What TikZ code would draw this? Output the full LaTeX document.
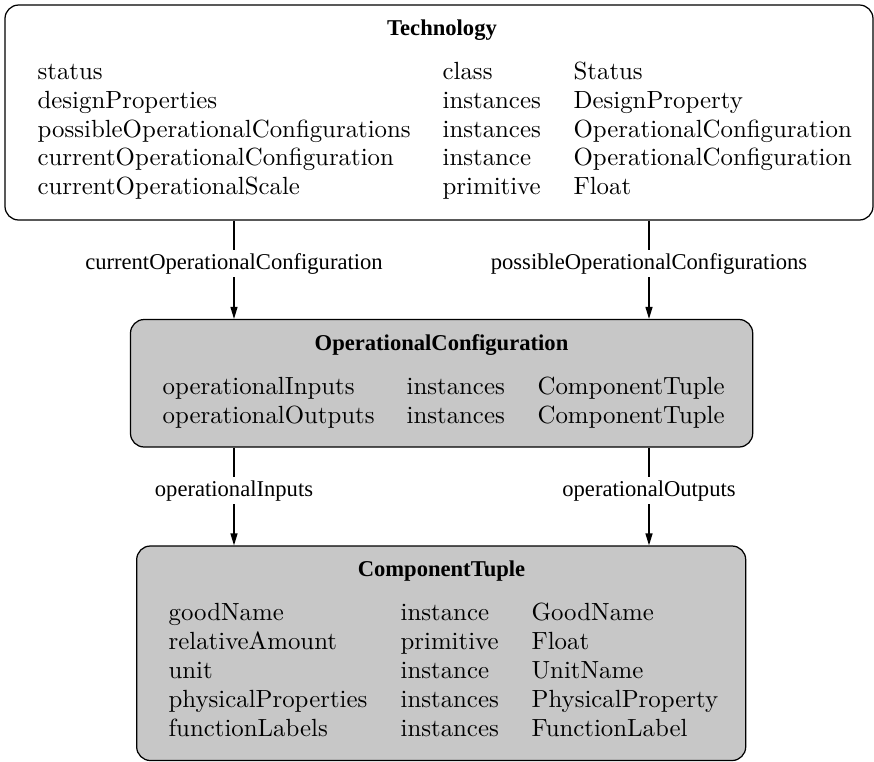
\documentclass[tikz,border=0pt]{standalone}
\usepackage{fontspec}
\newfontfamily\tms{Liberation Serif}
\usetikzlibrary{arrows.meta,fit}
\newlength\pxu
\setlength\pxu{0.4027pt}
\definecolor{boxgray}{gray}{0.78}
\begin{document}
\begin{tikzpicture}[x=\pxu,y=-\pxu,line width=0.5pt,
  classbox/.style={draw=black,rounded corners=5.5pt,inner sep=0pt},
  whitebox/.style={classbox,fill=white},
  graybox/.style={classbox,fill=boxgray},
  titletext/.style={inner sep=0pt,anchor=base,font=\tms\bfseries\fontsize{9.1}{11}\selectfont},
  rowtext/.style={inner sep=0pt,anchor=base west,font=\fontsize{10}{11.63}\selectfont},
  lbl/.style={fill=white,inner xsep=2pt,inner ysep=1.3pt,font=\tms\fontsize{9.1}{11}\selectfont},
  arr/.style={-{Triangle[length=4.8pt,width=2.8pt]}}]
\useasboundingbox (0,0) rectangle (874,761);

% boxes
\node[whitebox,fit={(5,5) (873,220)}] (tech) {};
\node[graybox,fit={(130.5,319.5) (752.7,447)}] (oc) {};
\node[graybox,fit={(136.7,546) (745.7,760.5)}] (ct) {};

% Technology
\node[titletext] (techtitle) at (442,35) {Technology};
\node[rowtext] (techrows) at (37,79.3) {\begin{tabular}[t]{@{}p{405\pxu}@{}p{131\pxu}@{}l@{}}
status & class & Status\\
designProperties & instances & DesignProperty\\
possibleOperationalConfigurations & instances & OperationalConfiguration\\
currentOperationalConfiguration & instance & OperationalConfiguration\\
currentOperationalScale & primitive & Float
\end{tabular}};

% OperationalConfiguration
\node[titletext] (octitle) at (441.5,350) {OperationalConfiguration};
\node[rowtext] (ocrows) at (162,394.5) {\begin{tabular}[t]{@{}p{244\pxu}@{}p{131\pxu}@{}l@{}}
operationalInputs & instances & ComponentTuple\\
operationalOutputs & instances & ComponentTuple
\end{tabular}};

% ComponentTuple
\node[titletext] (cttitle) at (441.5,576) {ComponentTuple};
\node[rowtext] (ctrows) at (168,620.5) {\begin{tabular}[t]{@{}p{232\pxu}@{}p{131\pxu}@{}l@{}}
goodName & instance & GoodName\\
relativeAmount & primitive & Float\\
unit & instance & UnitName\\
physicalProperties & instances & PhysicalProperty\\
functionLabels & instances & FunctionLabel
\end{tabular}};

% connectors
\coordinate (cl) at (234,0);
\coordinate (cr) at (649,0);
\draw[arr] (tech.south -| cl) -- node[lbl,pos=0.44] (l1) {currentOperationalConfiguration} (oc.north -| cl);
\draw[arr] (tech.south -| cr) -- node[lbl,pos=0.44] (l2) {possibleOperationalConfigurations} (oc.north -| cr);
\draw[arr] (oc.south -| cl) -- node[lbl,pos=0.44] (l3) {operationalInputs} (ct.north -| cl);
\draw[arr] (oc.south -| cr) -- node[lbl,pos=0.44] (l4) {operationalOutputs} (ct.north -| cr);
\end{tikzpicture}
\end{document}
